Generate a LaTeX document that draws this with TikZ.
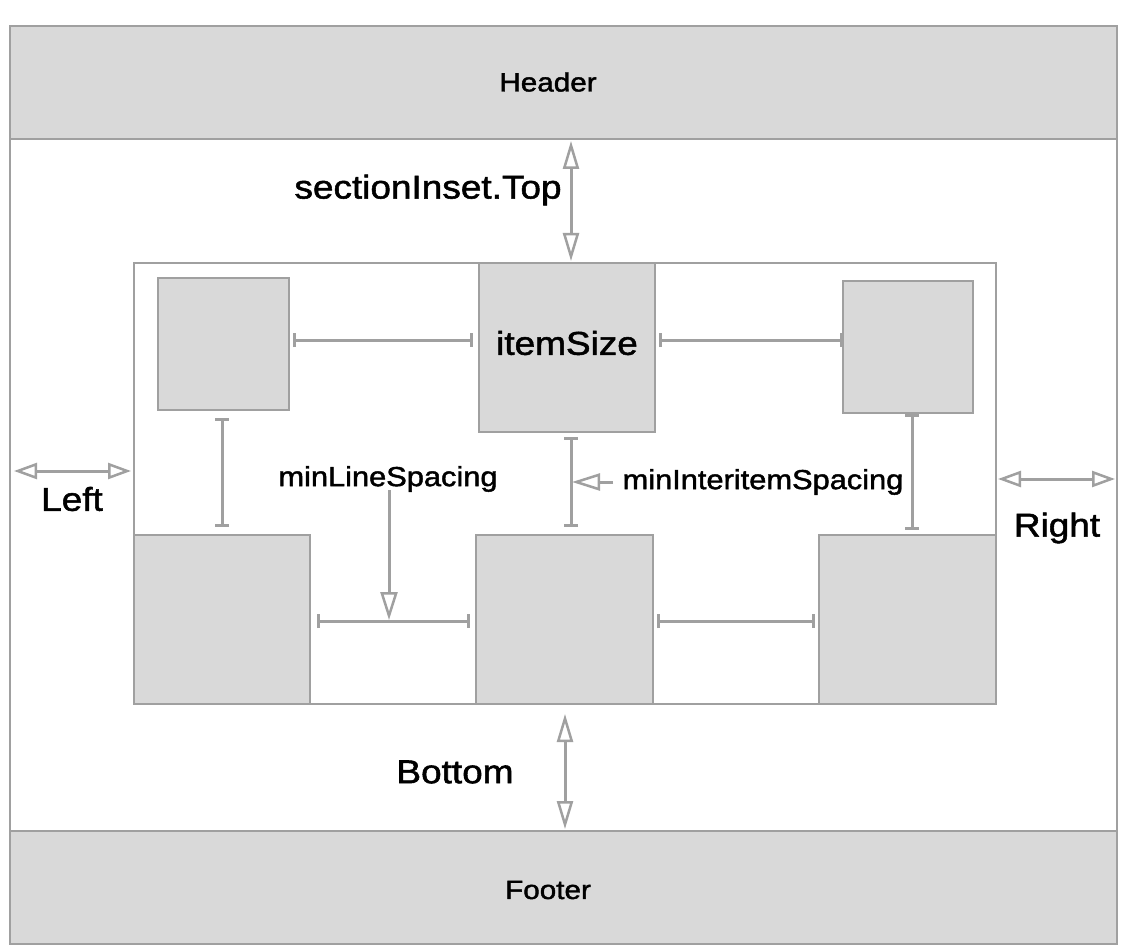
\documentclass[tikz,border=0pt]{standalone}
\usepackage{fontspec}
\setmainfont{Liberation Sans}[FakeStretch=1.12,FakeBold=1.6]
\usetikzlibrary{arrows.meta,calc}
\definecolor{ln}{HTML}{A0A0A0}
\definecolor{bx}{HTML}{D9D9D9}
\begin{document}
\begin{tikzpicture}[x=1pt,y=-1pt,
  box/.style={draw=ln,fill=bx,line width=2.5pt,inner sep=0pt},
  frame/.style={draw=ln,line width=2.5pt,inner sep=0pt},
  dimbar/.style={draw=ln,line width=3pt,{Bar[width=14pt,line width=3pt]}-{Bar[width=14pt,line width=3pt]}},
  dbl/.style={draw=ln,line width=3pt,{Triangle[open,length=28pt,width=16pt,line width=2.5pt]}-{Triangle[open,length=28pt,width=16pt,line width=2.5pt]}},
  dblh/.style={draw=ln,line width=3pt,{Triangle[open,length=23pt,width=16pt,line width=2.5pt]}-{Triangle[open,length=23pt,width=16pt,line width=2.5pt]}},
  one/.style={draw=ln,line width=3pt,-{Triangle[open,length=28pt,width=17pt,line width=2.5pt]}},
  bigtxt/.style={font=\fontsize{33}{36}\selectfont,inner sep=0pt},
  midtxt/.style={font=\fontsize{27.5}{30}\selectfont,inner sep=0pt},
  smtxt/.style={font=\fontsize{26.5}{30}\selectfont,inner sep=0pt}]
\useasboundingbox[fill=white] (0,0) rectangle (1122,952);
% outer frame and header/footer
\node[frame,minimum width=1107pt,minimum height=918pt] (outer) at (563.5,485) {};
\node[box,minimum width=1107pt,minimum height=113pt] (header) at (563.5,82.5) {};
\node[box,minimum width=1107pt,minimum height=113pt] (footer) at (563.5,887.5) {};
\node[smtxt] (headertxt) at (548,82) {Header};
\node[smtxt] (footertxt) at (548,890) {Footer};
% section
\node[frame,minimum width=862pt,minimum height=441pt] (section) at (565,483.5) {};
% items
\node[box,minimum width=131pt,minimum height=132pt] (tl) at (223.5,344) {};
\node[box,minimum width=176pt,minimum height=169pt] (item) at (567,347.5) {};
\node[box,minimum width=130pt,minimum height=132pt] (tr) at (908,347) {};
\node[box,minimum width=176pt,minimum height=169pt] (bl) at (222,619.5) {};
\node[box,minimum width=177pt,minimum height=169pt] (bm) at (564.5,619.5) {};
\node[box,minimum width=177pt,minimum height=169pt] (br) at (907.5,619.5) {};
\node[bigtxt] (itemtxt) at (567,343) {itemSize};
% coordinates
\coordinate (a1) at (293,340); \coordinate (a2) at (473,340);
\coordinate (b1) at (659,340); \coordinate (b2) at (843,340);
\coordinate (c1) at (222,418); \coordinate (c2) at (222,527);
\coordinate (d1) at (571,437); \coordinate (d2) at (571,527);
\coordinate (e1) at (912,414); \coordinate (e2) at (912,530);
\coordinate (f1) at (317,621); \coordinate (f2) at (470,621);
\coordinate (g1) at (657,621); \coordinate (g2) at (815,621);
\coordinate (t1) at (571,141); \coordinate (t2) at (571,261);
\coordinate (l1) at (14,471);  \coordinate (l2) at (131,471);
\coordinate (r1) at (998,479); \coordinate (r2) at (1115,479);
\coordinate (u1) at (565,714); \coordinate (u2) at (565,829);
\coordinate (m1) at (389,490); \coordinate (m2) at (389,620);
\coordinate (n1) at (613,482); \coordinate (n2) at (572,482);
% bars
\draw[dimbar] (a1) -- (a2);
\draw[dimbar] (b1) -- (b2);
\draw[dimbar] (c1) -- (c2);
\draw[dimbar] (d1) -- (d2);
\draw[dimbar] (e1) -- (e2);
\draw[dimbar] (f1) -- (f2);
\draw[dimbar] (g1) -- (g2);
% arrows
\draw[dbl] (t1) -- (t2);
\draw[dblh] (l1) -- (l2);
\draw[dblh] (r1) -- (r2);
\draw[dbl] (u1) -- (u2);
\draw[one] (m1) -- (m2);
\draw[one] (n1) -- (n2);
% labels
\node[bigtxt] (toptxt) at (428,190) {sectionInset.Top};
\node[bigtxt] (lefttxt) at (72,499) {Left};
\node[bigtxt] (righttxt) at (1057,528) {Right};
\node[bigtxt] (bottomtxt) at (455,772) {Bottom};
\node[midtxt] (linetxt) at (388,479) {minLineSpacing};
\node[midtxt] (intertxt) at (763,482) {minInteritemSpacing};
\end{tikzpicture}
\end{document}
